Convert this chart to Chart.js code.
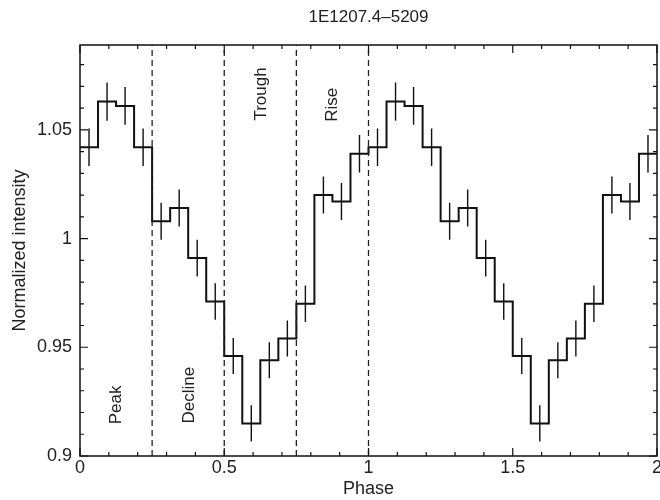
<!DOCTYPE html>
<html>
<head>
  <meta charset="UTF-8">
  <title>1E1207.4-5209</title>
  <script src="https://cdn.jsdelivr.net/npm/chart.js"></script>
  <style>
    body { margin: 0; background: #fff; }
    #wrap { width: 660px; height: 500px; }
  </style>
</head>
<body>
<div id="wrap"><canvas id="pulse"></canvas></div>
<script>
  // bin centres (16 bins per cycle, two cycles)
  const phase = [
    0.03125, 0.09375, 0.15625, 0.21875, 0.28125, 0.34375, 0.40625, 0.46875,
    0.53125, 0.59375, 0.65625, 0.71875, 0.78125, 0.84375, 0.90625, 0.96875,
    1.03125, 1.09375, 1.15625, 1.21875, 1.28125, 1.34375, 1.40625, 1.46875,
    1.53125, 1.59375, 1.65625, 1.71875, 1.78125, 1.84375, 1.90625, 1.96875
  ];
  const binWidth = 0.0625;
  const intensity = [
    1.042, 1.063, 1.061, 1.042, 1.008, 1.014, 0.991, 0.971,
    0.946, 0.915, 0.944, 0.954, 0.970, 1.020, 1.017, 1.039,
    1.042, 1.063, 1.061, 1.042, 1.008, 1.014, 0.991, 0.971,
    0.946, 0.915, 0.944, 0.954, 0.970, 1.020, 1.017, 1.039
  ];
  const errors = [
    0.0086, 0.0088, 0.0087, 0.0086, 0.0085, 0.0085, 0.0084, 0.0084,
    0.0083, 0.0083, 0.0083, 0.0083, 0.0084, 0.0085, 0.0085, 0.0086,
    0.0086, 0.0088, 0.0087, 0.0086, 0.0085, 0.0085, 0.0084, 0.0084,
    0.0083, 0.0083, 0.0083, 0.0083, 0.0084, 0.0085, 0.0085, 0.0086
  ];
  const boundaries = [0.25, 0.5, 0.75, 1.0];
  const xTickLabels = [0, 0.5, 1, 1.5, 2];
  const yTickLabels = [0.9, 0.95, 1, 1.05];
  const phaseNames = ['Peak', 'Decline', 'Trough', 'Rise'];
  const nameX = [0.125, 0.38, 0.63, 0.875];
  const nameY = [0.9235, 0.928, 1.0665, 1.0615];
  const chartTitle = '1E1207.4\u20135209';

  const yMin = 0.9, yMax = 1.089;
  const ink = '#111';
  const fontFamily = '"Liberation Sans", Arial, sans-serif';

  // step outline: left edge of each bin, then closing point
  const stepData = phase.map((p, i) => ({ x: p - binWidth / 2, y: intensity[i] }));
  stepData.push({ x: phase[phase.length - 1] + binWidth / 2, y: intensity[intensity.length - 1] });

  // error bars as separate segments
  const errData = [];
  phase.forEach((p, i) => {
    errData.push({ x: p, y: intensity[i] - errors[i] });
    errData.push({ x: p, y: intensity[i] + errors[i] });
    errData.push({ x: p, y: null });
  });

  const lineData = [];
  boundaries.forEach(b => {
    lineData.push({ x: b, y: yMin });
    lineData.push({ x: b, y: yMax });
    lineData.push({ x: b, y: null });
  });

  // frame, inward ticks, title over the plot and phase names
  const framePlugin = {
    id: 'frame',
    afterDraw(chart) {
      const ctx = chart.ctx;
      const a = chart.chartArea;
      const xs = chart.scales.x, ys = chart.scales.y;
      ctx.save();
      ctx.strokeStyle = ink;
      ctx.lineWidth = 1.5;
      ctx.strokeRect(a.left, a.top, a.right - a.left, a.bottom - a.top);
      ctx.lineWidth = 1.2;
      ctx.beginPath();
      for (let k = 0; k <= 20; k++) {
        const v = k / 10;
        const px = xs.getPixelForValue(v);
        const len = (k % 5 === 0) ? 8 : 4;
        ctx.moveTo(px, a.bottom); ctx.lineTo(px, a.bottom - len);
        ctx.moveTo(px, a.top); ctx.lineTo(px, a.top + len);
      }
      for (let k = 90; k <= 108; k++) {
        const v = k / 100;
        const py = ys.getPixelForValue(v);
        const len = (k % 5 === 0) ? 8 : 4;
        ctx.moveTo(a.left, py); ctx.lineTo(a.left + len, py);
        ctx.moveTo(a.right, py); ctx.lineTo(a.right - len, py);
      }
      ctx.stroke();

      ctx.fillStyle = '#222';
      ctx.textAlign = 'center';
      ctx.textBaseline = 'middle';
      ctx.font = '17px ' + fontFamily;
      ctx.fillText(chartTitle, (a.left + a.right) / 2, 17);

      phaseNames.forEach((n, i) => {
        ctx.save();
        ctx.translate(xs.getPixelForValue(nameX[i]), ys.getPixelForValue(nameY[i]));
        ctx.rotate(-Math.PI / 2);
        ctx.fillText(n, 0, 0);
        ctx.restore();
      });
      ctx.restore();
    }
  };

  new Chart(document.getElementById('pulse'), {
    type: 'line',
    data: {
      datasets: [
        {
          data: lineData,
          borderColor: '#222',
          borderWidth: 1.3,
          borderDash: [6, 4],
          pointRadius: 0,
          spanGaps: false
        },
        {
          data: errData,
          borderColor: ink,
          borderWidth: 1.4,
          pointRadius: 0,
          spanGaps: false
        },
        {
          data: stepData,
          borderColor: ink,
          borderWidth: 2,
          pointRadius: 0,
          stepped: true
        }
      ]
    },
    options: {
      responsive: true,
      maintainAspectRatio: false,
      animation: false,
      layout: { padding: { left: 0, right: 3, top: 45, bottom: 0 } },
      plugins: {
        legend: { display: false },
        tooltip: { enabled: false },
        title: { display: false }
      },
      scales: {
        x: {
          type: 'linear',
          min: 0,
          max: 2,
          grid: { display: false, drawTicks: false },
          border: { display: false },
          ticks: {
            stepSize: 0.1,
            autoSkip: false,
            maxRotation: 0,
            padding: 1,
            color: '#222',
            font: { family: fontFamily, size: 18 },
            callback: v => {
              const hit = xTickLabels.find(t => Math.abs(t - v) < 1e-6);
              return hit === undefined ? '' : String(hit);
            }
          },
          title: {
            display: true,
            text: 'Phase',
            color: '#222',
            font: { family: fontFamily, size: 18 },
            padding: { top: 0, bottom: 0 }
          },
          afterFit: s => { s.height = 44; s.paddingRight = 3; }
        },
        y: {
          min: yMin,
          max: yMax,
          grid: { display: false, drawTicks: false },
          border: { display: false },
          ticks: {
            stepSize: 0.01,
            autoSkip: false,
            padding: 8,
            color: '#222',
            font: { family: fontFamily, size: 18 },
            callback: v => {
              const hit = yTickLabels.find(t => Math.abs(t - v) < 1e-6);
              return hit === undefined ? '' : String(hit);
            }
          },
          title: {
            display: true,
            text: 'Normalized intensity',
            color: '#222',
            font: { family: fontFamily, size: 18 },
            padding: { top: 9, bottom: 0 }
          },
          afterFit: s => { s.width = 80; s.paddingTop = 0; }
        }
      }
    },
    plugins: [framePlugin]
  });
</script>
</body>
</html>
